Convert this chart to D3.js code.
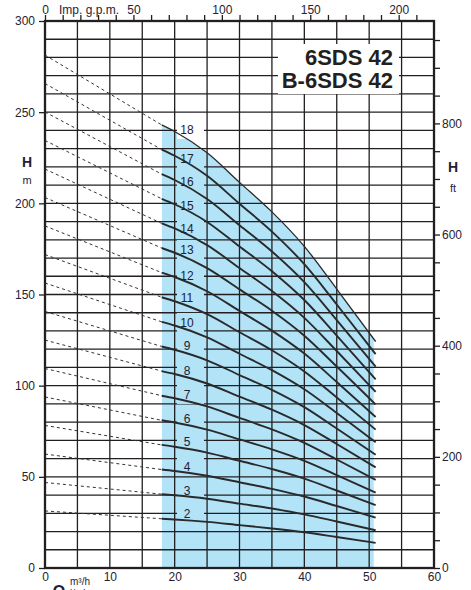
<!DOCTYPE html>
<html><head><meta charset="utf-8">
<script src="https://cdn.jsdelivr.net/npm/d3@7"></script>
<style>
html,body{margin:0;padding:0;background:#fff;}
svg{display:block;font-family:"Liberation Sans",Arial,Helvetica,sans-serif;}
</style></head>
<body>
<svg id="c" width="471" height="590"></svg>
<script>
// ---- data ----
const stages = [2,3,4,5,6,7,8,9,10,11,12,13,14,15,16,17,18];
const qDashed = [0, 18];                         // m3/h, dashed part
const qSolid  = [18, 20, 25, 30, 35, 40, 45, 51]; // m3/h, operating range
const headDashed = [
  [31.3, 27.0], [46.9, 40.5], [62.5, 54.0], [78.2, 67.5], [93.8, 81.0],
  [109.4, 94.5], [125.0, 108.0], [140.7, 121.5], [156.3, 135.0], [171.9, 148.5],
  [187.6, 162.0], [203.2, 175.5], [218.8, 189.0], [234.5, 202.5], [250.1, 216.0],
  [265.7, 229.5], [281.3, 243.0]
];
const headSolid = [
  [27.0, 26.6, 25.3, 23.5, 21.7, 19.6, 17.0, 13.8],
  [40.5, 39.9, 38.0, 35.3, 32.6, 29.4, 25.5, 20.7],
  [54.0, 53.2, 50.6, 47.0, 43.4, 39.2, 34.0, 27.6],
  [67.5, 66.5, 63.3, 58.8, 54.3, 49.0, 42.5, 34.5],
  [81.0, 79.8, 75.9, 70.5, 65.1, 58.8, 51.0, 41.4],
  [94.5, 93.1, 88.6, 82.3, 76.0, 68.6, 59.5, 48.3],
  [108.0, 106.4, 101.2, 94.0, 86.8, 78.4, 68.0, 55.2],
  [121.5, 119.7, 113.9, 105.8, 97.7, 88.2, 76.5, 62.1],
  [135.0, 133.0, 126.5, 117.5, 108.5, 98.0, 85.0, 69.0],
  [148.5, 146.3, 139.2, 129.3, 119.4, 107.8, 93.5, 75.9],
  [162.0, 159.6, 151.8, 141.0, 130.2, 117.6, 102.0, 82.8],
  [175.5, 172.9, 164.5, 152.8, 141.1, 127.4, 110.5, 89.7],
  [189.0, 186.2, 177.1, 164.5, 151.9, 137.2, 119.0, 96.6],
  [202.5, 199.5, 189.8, 176.3, 162.8, 147.0, 127.5, 103.5],
  [216.0, 212.8, 202.4, 188.0, 173.6, 156.8, 136.0, 110.4],
  [229.5, 226.1, 215.1, 199.8, 184.5, 166.6, 144.5, 117.3],
  [243.0, 239.4, 227.7, 211.5, 195.3, 176.4, 153.0, 124.2]
];
const labelQ = 21.9;
const labelHead = [29.6, 42.2, 55.4, 69.1, 81.7, 94.9, 108.0, 121.8, 134.4, 148.1,
                   160.1, 174.4, 185.9, 198.5, 211.7, 224.3, 240.2];
const rangeQ = [18, 50.7];   // shaded operating range
const leftTicks = [0, 50, 100, 150, 200, 250, 300];
const bottomTicks = [0, 10, 20, 30, 40, 50, 60];
const gpmLabels = [0, 50, 100, 150, 200];
const ftLabels = [0, 200, 400, 600, 800];
const titleLines = ["6SDS 42", "B-6SDS 42"];

// ---- drawing ----
const svg = d3.select("#c");
const L = 45, R = 434, T = 21, B = 568;
const x = d3.scaleLinear().domain([0, 60]).range([L, R]);
const y = d3.scaleLinear().domain([0, 300]).range([B, T]);
const xg = d3.scaleLinear().domain([0, 60 * 3.6662]).range([L, R]);
const yft = d3.scaleLinear().domain([0, 300 * 3.28084]).range([B, T]);
const ink = "#231f20", blue = "#b2e3f7";

// shaded area under top curve within operating range
const topCurve = headSolid[headSolid.length - 1];
svg.append("clipPath").attr("id", "rc").append("rect")
  .attr("x", x(rangeQ[0])).attr("y", T).attr("width", x(rangeQ[1]) - x(rangeQ[0])).attr("height", B - T);
const area = d3.area().x((d, i) => x(qSolid[i])).y0(y(0)).y1(d => y(d)).curve(d3.curveMonotoneX);
svg.append("path").attr("d", area(topCurve)).attr("fill", blue).attr("clip-path", "url(#rc)");

// grid
const g = svg.append("g").attr("stroke", ink).attr("stroke-width", 1.3);
d3.range(10, 300, 10).forEach(h => g.append("line").attr("x1", L).attr("x2", R).attr("y1", y(h)).attr("y2", y(h)));
d3.range(5, 60, 5).forEach(q => g.append("line").attr("y1", T).attr("y2", B).attr("x1", x(q)).attr("x2", x(q)));

// title
svg.append("rect").attr("x", 278).attr("y", 44).attr("width", 121).attr("height", 50).attr("fill", "#fff");
titleLines.forEach((t, i) => svg.append("text").attr("x", 393).attr("y", 65 + i * 23)
  .attr("text-anchor", "end").attr("font-weight", "bold").attr("font-size", 22).attr("fill", ink).text(t));

// label boxes
stages.forEach((n, i) => {
  svg.append("rect").attr("x", 177).attr("width", 27)
    .attr("y", y(labelHead[i]) - 10).attr("height", 19)
    .attr("fill", n === 18 ? "#fff" : blue);
});

// curves
const lineS = d3.line().x((d, i) => x(qSolid[i])).y(d => y(d)).curve(d3.curveMonotoneX);
const lineD = d3.line().x((d, i) => x(qDashed[i])).y(d => y(d));
stages.forEach((n, i) => {
  svg.append("path").attr("d", lineD(headDashed[i])).attr("fill", "none")
    .attr("stroke", "#333").attr("stroke-width", 1).attr("stroke-dasharray", "3,3");
  svg.append("path").attr("d", lineS(headSolid[i])).attr("fill", "none")
    .attr("stroke", "#2a2a2a").attr("stroke-width", n === 18 ? 1.3 : 1.9);
});

// curve labels
stages.forEach((n, i) => svg.append("text").attr("x", x(labelQ)).attr("y", y(labelHead[i]))
  .attr("dy", "0.36em").attr("text-anchor", "middle").attr("font-size", 12).attr("fill", "#1f2233").text(n));

// axes
function styleAxis(sel) {
  sel.select(".domain").remove();
  sel.selectAll("line").attr("stroke", ink).attr("stroke-width", 1.3);
  sel.selectAll("text").attr("font-size", 12).attr("fill", "#1f2233")
    .attr("font-family", "'Liberation Sans',Arial,sans-serif");
}
svg.append("g").attr("transform", `translate(${L},0)`)
  .call(d3.axisLeft(y).tickValues(leftTicks).tickSize(6).tickPadding(4)).call(styleAxis);
svg.append("g").attr("transform", `translate(0,${B})`)
  .call(d3.axisBottom(x).tickValues(bottomTicks).tickSize(0).tickPadding(4)).call(styleAxis);
svg.append("g").attr("transform", `translate(0,${T})`)
  .call(d3.axisTop(xg).tickValues(d3.range(0, 220, 10)).tickSize(6).tickPadding(1)
    .tickFormat(d => gpmLabels.includes(d) ? d : "")).call(styleAxis);
svg.append("g").attr("transform", `translate(${R},0)`)
  .call(d3.axisRight(yft).tickValues(d3.range(0, 1000, 50)).tickSize(6).tickPadding(2)
    .tickFormat(d => ftLabels.includes(d) ? d : "")).call(styleAxis);

// frame
svg.append("rect").attr("x", L).attr("y", T).attr("width", R - L).attr("height", B - T)
  .attr("fill", "none").attr("stroke", ink).attr("stroke-width", 2.3);

// axis titles
const txt = (xx, yy, s, fs, bold, anchor) => svg.append("text").attr("x", xx).attr("y", yy)
  .attr("font-size", fs).attr("font-weight", bold ? "bold" : "normal")
  .attr("text-anchor", anchor || "middle").attr("fill", "#1f2233").text(s);
txt(27, 167, "H", 14, true);
txt(27, 184, "m", 11, false);
txt(453, 172, "H", 14, true);
txt(453, 192, "ft", 11, false);
txt(59, 14, "Imp. g.p.m.", 12, false, "start");
txt(59, 597, "Q", 16, true);
txt(70, 585, "m³/h", 10, false, "start");
txt(70, 597, "l/min", 10, false, "start");
</script>
</body></html>
